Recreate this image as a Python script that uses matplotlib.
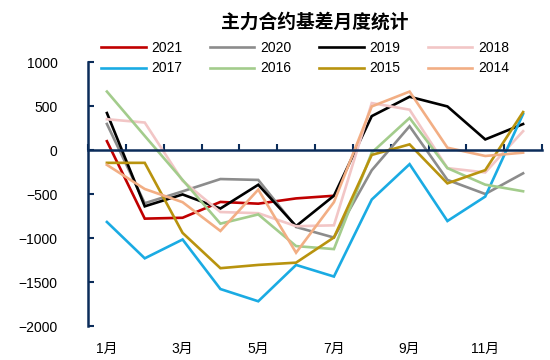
import numpy as np
import matplotlib
matplotlib.use("Agg")
import matplotlib.pyplot as plt
from matplotlib.transforms import blended_transform_factory

plt.rcParams["font.family"] = ["Liberation Sans", "Noto Sans CJK SC", "DejaVu Sans"]

months = ["1月", "2月", "3月", "4月", "5月", "6月", "7月", "8月", "9月", "10月", "11月", "12月"]
years = ["2021", "2020", "2019", "2018", "2017", "2016", "2015", "2014"]
colors = ["#C00000", "#8C8C8C", "#000000", "#F2C6C6", "#1AABE3", "#A3CC8C", "#B8930E", "#F2AE84"]

# monthly basis per year (2021 only to July)
y2021 = [100, -780, -770, -590, -610, -550, -520]
y2020 = [296, -605, -470, -330, -340, -875, -995, -230, 270, -340, -500, -265]
y2019 = [420, -640, -505, -665, -395, -865, -520, 385, 605, 495, 120, 295]
y2018 = [350, 312, -350, -705, -718, -866, -856, 533, 458, -206, -255, 214]
y2017 = [-818, -1231, -1017, -1580, -1719, -1306, -1438, -563, -161, -807, -529, 409]
y2016 = [664, 160, -340, -837, -732, -1092, -1126, -30, 364, -206, -394, -469]
y2015 = [-146, -146, -942, -1343, -1306, -1280, -994, -56, 64, -379, -229, 431]
y2014 = [-169, -443, -593, -920, -450, -1167, -593, 495, 664, 26, -68, -30]
series = [y2021, y2020, y2019, y2018, y2017, y2016, y2015, y2014]

navy = "#0B2C5A"

fig = plt.figure(figsize=(5.5, 3.6), dpi=100)
ax = fig.add_axes([88 / 550, 1 - 326 / 360, (542 - 88) / 550, (326 - 62) / 360])

lines = []
for lab, col, vals in zip(years, colors, series):
    x = np.arange(1, len(vals) + 1)
    ln, = ax.plot(x, vals, color=col, lw=1.9, label=lab, solid_joinstyle="miter")
    lines.append(ln)

ax.set_xlim(0.5, 12.5)
ax.set_ylim(-2000, 1000)
ax.set_yticks(np.arange(-2000, 1001, 500))
ax.tick_params(axis="y", direction="in", length=4, width=1.5, color=navy, labelsize=10, pad=22)

ax.spines["top"].set_visible(False)
ax.spines["right"].set_visible(False)
ax.spines["left"].set_color(navy)
ax.spines["left"].set_linewidth(1.8)
ax.spines["bottom"].set_position(("data", 0))
ax.spines["bottom"].set_color(navy)
ax.spines["bottom"].set_linewidth(1.8)

ax.set_xticks(np.arange(0.5, 13, 1))
ax.set_xticklabels([])
ax.tick_params(axis="x", direction="in", length=4, width=1.5, color=navy)

trans = blended_transform_factory(ax.transData, ax.transAxes)
for i, m in enumerate(months):
    if i % 2 == 0:
        ax.text(i + 1, -0.085, m, transform=trans, ha="center", va="center", fontsize=10)

fig.text(0.573, 1 - 22 / 360, "主力合约基差月度统计", ha="center", va="center",
         fontsize=13.5, fontweight="bold", family=["Noto Sans CJK SC", "DejaVu Sans"])

# legend filled row by row: 4 per row
order = [0, 4, 1, 5, 2, 6, 3, 7]
fig.legend([lines[i] for i in order], [years[i] for i in order],
           loc="center", bbox_to_anchor=(305 / 550, 1 - 58 / 360), ncol=4, frameon=False,
           fontsize=10, handlelength=3.2, handletextpad=0.4, columnspacing=2.0,
           labelspacing=0.5, borderaxespad=0, borderpad=0)

fig.savefig("out.png", dpi=100)
